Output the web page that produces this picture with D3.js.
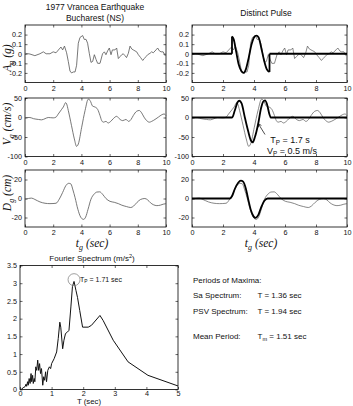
<!DOCTYPE html>
<html>
<head>
<meta charset="utf-8">
<script src="https://cdn.jsdelivr.net/npm/d3@7"></script>
<style>
  body { margin: 0; background: #fff; }
  text { font-family: Arial, "Liberation Sans", sans-serif; }
</style>
</head>
<body>
<svg id="chart" width="353" height="406"></svg>
<script>
// ---- data ----
// ground motion record (time s, value)
const accRecord = [[0,0.005],[0.35,-0.003],[0.7,-0.02],[1.06,0],[1.3,0.02],[1.5,0],[1.77,0],[2.0,0.02],[2.2,0.01],[2.43,0.05],[2.55,0.07],[2.67,0.04],[2.8,0.08],[2.95,0.01],[3.07,-0.08],[3.19,-0.18],[3.3,-0.2],[3.43,-0.19],[3.55,-0.19],[3.66,-0.12],[3.78,0.11],[3.9,0.17],[4.09,0.19],[4.2,0.15],[4.33,0.15],[4.44,0.11],[4.56,0.005],[4.68,-0.09],[4.8,-0.08],[4.92,-0.01],[5.04,-0.06],[5.15,-0.1],[5.32,-0.1],[5.5,0],[5.63,0.02],[5.74,-0.01],[5.86,0.03],[5.98,0.06],[6.1,-0.01],[6.2,0.04],[6.38,0.04],[6.5,0.06],[6.62,-0.05],[6.74,-0.03],[6.86,-0.01],[6.97,0],[7.09,-0.02],[7.2,-0.04],[7.33,0.005],[7.45,0.08],[7.57,0.05],[7.68,0.04],[7.8,0.03],[7.92,0.02],[8.04,-0.01],[8.2,-0.04],[8.35,-0.07],[8.46,-0.05],[8.58,-0.03],[8.7,-0.01],[8.87,0.005],[8.98,0.02],[9.1,0.01],[9.29,0.04],[9.41,0.06],[9.53,0.03],[9.65,0.02],[9.8,0.02],[9.93,-0.02],[10,-0.01]];
const velRecord = [[0,0],[0.35,0],[0.6,-3],[0.95,-5],[1.18,-6],[1.42,-3],[1.65,0],[2.0,-1],[2.2,1],[2.36,9],[2.6,21],[2.72,27],[2.88,38],[2.95,35],[3.07,18],[3.3,-21],[3.5,-55],[3.66,-74],[3.78,-68],[4.02,-25],[4.26,18],[4.49,47],[4.61,44],[4.8,29],[4.96,27],[5.15,21],[5.32,5],[5.44,-8],[5.56,-12],[5.74,-10],[5.9,-14],[6.08,-10],[6.26,-3],[6.5,3],[6.74,-5],[6.93,-8],[7.16,-5],[7.35,-10],[7.52,-5],[7.68,5],[7.92,16],[8.1,18],[8.27,12],[8.44,1],[8.63,-8],[8.82,-12],[8.98,-10],[9.22,-5],[9.46,1],[9.7,7],[9.86,9],[10,5]];
const dispRecord = [[0,-0.7],[0.24,0],[0.47,0.4],[0.7,-1],[1.06,-3.6],[1.42,-5],[1.77,-5.4],[2.2,-5],[2.43,-0.7],[2.67,6.4],[2.9,13.6],[3.1,16],[3.25,15.4],[3.4,9],[3.55,1],[3.75,-11.4],[3.95,-19.6],[4.15,-22],[4.3,-19.6],[4.47,-11.4],[4.68,-0.7],[4.9,4.6],[5.1,6.8],[5.3,7],[5.5,4.5],[5.74,0],[6.03,-3],[6.33,-4],[6.62,-5.4],[6.86,-7],[7.2,-8.5],[7.5,-9.5],[7.7,-8],[7.95,-4],[8.2,-1],[8.5,0],[8.7,-1.5],[8.9,-4.5],[9.1,-6.5],[9.35,-7.5],[9.6,-7],[9.8,-6],[10,-5.4]];

// equivalent pulse (repeated times mark a jump)
const accPulse = [[0,0],[2.58,0],[2.58,0.18],[2.69,0.15],[2.84,0.03],[3.01,-0.11],[3.18,-0.18],[3.33,-0.2],[3.48,-0.16],[3.66,-0.04],[3.83,0.09],[4.0,0.17],[4.15,0.19],[4.3,0.17],[4.47,0.06],[4.65,-0.07],[4.82,-0.16],[5.0,-0.19],[5.0,0],[10,0]];
const velPulse = [[0,0],[2.59,0],[2.76,18],[2.94,39],[3.05,43],[3.2,36],[3.41,0],[3.63,-36],[3.8,-59],[3.91,-64],[4.06,-50],[4.28,-14],[4.45,23],[4.6,41],[4.71,44],[4.84,34],[4.99,9],[5.08,0],[10,0]];
const dispPulse = [[0,0],[2.44,0],[2.59,2.6],[2.76,10],[2.98,16.6],[3.15,18.8],[3.3,17.7],[3.48,10],[3.63,-1],[3.8,-12.4],[3.97,-18.8],[4.1,-20.4],[4.28,-17.3],[4.45,-9.8],[4.67,-2.3],[4.88,0],[10,0]];

// Fourier amplitude spectrum (period s, m/s^2)
const fourier = [[0,0],[0.05,0.01],[0.1,0.05],[0.16,0.08],[0.19,0.15],[0.21,0.09],[0.24,0.22],[0.26,0.12],[0.29,0.31],[0.32,0.17],[0.35,0.45],[0.37,0.22],[0.4,0.4],[0.42,0.17],[0.45,0.31],[0.47,0.22],[0.5,0.64],[0.53,0.54],[0.56,0.83],[0.59,0.54],[0.62,0.73],[0.65,0.45],[0.68,0.59],[0.72,0.12],[0.75,0.36],[0.78,0.26],[0.81,0.5],[0.84,0.22],[0.88,0.54],[0.93,0.64],[0.97,0.59],[1.0,0.73],[1.08,0.87],[1.16,1.06],[1.21,1.44],[1.26,1.9],[1.29,1.76],[1.35,1.15],[1.39,1.39],[1.44,1.58],[1.5,1.62],[1.55,1.67],[1.61,2.33],[1.66,2.91],[1.71,3.05],[1.77,2.8],[1.82,2.6],[1.89,2.23],[1.98,1.76],[2.16,1.76],[2.26,1.81],[2.53,2.09],[2.63,1.95],[2.95,1.39],[3.42,0.78],[4.05,0.4],[5.0,0.1]];

// ticks
const timeTicks = [0, 2, 4, 6, 8, 10];
const accTicks = [-0.2, -0.1, 0, 0.1, 0.2];
const velTicks = [-100, -50, 0, 50];
const dispTicks = [-20, 0, 20];
const periodTicks = [0, 1, 2, 3, 4, 5];
const ampTicks = [0, 0.5, 1, 1.5, 2, 2.5, 3, 3.5];

const peakPeriod = [1.71, 3.1];

const svg = d3.select("#chart");

// MATLAB style box with inward ticks on all four sides
function panel(xRange, yRange, xDom, yDom, xTicks, yTicks, pad) {
    const x = d3.scaleLinear().domain(xDom).range(xRange);
    const y = d3.scaleLinear().domain(yDom).range(yRange);
    const g = svg.append("g");
    const fmt = d => String(d);

    g.append("g").attr("transform", "translate(0," + yRange[0] + ")")
        .call(d3.axisBottom(x).tickValues(xTicks).tickSize(-2.5).tickSizeOuter(0).tickPadding(pad || 3).tickFormat(fmt));
    g.append("g").attr("transform", "translate(0," + yRange[1] + ")")
        .call(d3.axisTop(x).tickValues(xTicks).tickSize(-2.5).tickSizeOuter(0).tickFormat(""));
    g.append("g").attr("transform", "translate(" + xRange[0] + ",0)")
        .call(d3.axisLeft(y).tickValues(yTicks).tickSize(-2.5).tickSizeOuter(0).tickPadding(3).tickFormat(fmt));
    g.append("g").attr("transform", "translate(" + xRange[1] + ",0)")
        .call(d3.axisRight(y).tickValues(yTicks).tickSize(-2.5).tickSizeOuter(0).tickFormat(""));

    g.selectAll(".domain").remove();
    g.selectAll(".tick line").attr("stroke", "#000").attr("stroke-width", 0.6);
    g.selectAll(".tick text").attr("font-size", 7.2).attr("fill", "#111")
        .attr("font-family", "Arial, 'Liberation Sans', sans-serif");

    g.append("rect")
        .attr("x", xRange[0]).attr("y", yRange[1])
        .attr("width", xRange[1] - xRange[0]).attr("height", yRange[0] - yRange[1])
        .attr("fill", "none").attr("stroke", "#000").attr("stroke-width", 0.8);
    return {x: x, y: y, g: g};
}

function drawLine(p, data, color, width, curve) {
    const line = d3.line()
        .x(d => p.x(d[0]))
        .y(d => p.y(d[1]))
        .curve(curve || d3.curveLinear);
    p.g.append("path")
        .datum(data)
        .attr("d", line)
        .attr("fill", "none")
        .attr("stroke", color)
        .attr("stroke-width", width)
        .attr("stroke-linejoin", "round");
}

// pulse: split at jumps (equal times), smooth pieces between them
function drawPulse(p, data) {
    let pieces = [], cur = [data[0]];
    for (let i = 1; i < data.length; i++) {
        if (data[i][0] === data[i - 1][0]) {
            pieces.push(cur);
            drawLine(p, [data[i - 1], data[i]], "#000", 1.8);
            cur = [data[i]];
        } else {
            cur.push(data[i]);
        }
    }
    pieces.push(cur);
    pieces.forEach(seg => drawLine(p, seg, "#000", 1.8, d3.curveMonotoneX));
}

// italic serif axis label with subscript g
function mathLabel(x, y, main, sub, rest, rotate) {
    const t = svg.append("text")
        .attr("transform", "translate(" + x + "," + y + ")" + (rotate ? " rotate(-90)" : ""))
        .attr("text-anchor", "middle")
        .attr("font-style", "italic")
        .attr("font-size", 11.5)
        .attr("fill", "#111");
    t.append("tspan").text(main).attr("font-family", "'Liberation Serif', 'Times New Roman', serif");
    t.append("tspan").text(sub).attr("font-size", 8).attr("dy", 3).attr("font-family", "'Liberation Serif', serif");
    t.append("tspan").text(rest).attr("dy", -3).attr("font-family", "'Liberation Serif', serif");
}

// text with a subscript, e.g. T_P
function subText(x, y, size, main, sub, rest, anchor) {
    const t = svg.append("text")
        .attr("x", x).attr("y", y)
        .attr("font-size", size)
        .attr("text-anchor", anchor || "start")
        .attr("fill", "#111");
    t.append("tspan").text(main);
    t.append("tspan").text(sub).attr("font-size", size * 0.7).attr("dy", size * 0.25);
    t.append("tspan").text(rest).attr("dy", -size * 0.25);
    return t;
}

const smooth = d3.curveMonotoneX;
const recColor = "#555";

// rows and columns
const leftX = [25, 166], rightX = [192, 347];
const row1 = [82.5, 25], row2 = [156.5, 98], row3 = [227, 170];

// ---- left column: record ----
const pA = panel(leftX, row1, [0, 10], [-0.3, 0.3], timeTicks, accTicks);
drawLine(pA, accRecord, recColor, 0.8);
const pV = panel(leftX, row2, [0, 10], [-100, 50], timeTicks, velTicks);
drawLine(pV, velRecord, recColor, 0.8, smooth);
const pD = panel(leftX, row3, [0, 10], [-30, 30], timeTicks, dispTicks);
drawLine(pD, dispRecord, recColor, 0.8, smooth);

// ---- right column: record + pulse ----
const qA = panel(rightX, row1, [0, 10], [-0.3, 0.3], timeTicks, accTicks);
drawLine(qA, accRecord, recColor, 0.7);
drawPulse(qA, accPulse);
const qV = panel(rightX, row2, [0, 10], [-100, 50], timeTicks, velTicks);
drawLine(qV, velRecord, recColor, 0.7, smooth);
drawPulse(qV, velPulse);
const qD = panel(rightX, row3, [0, 10], [-30, 30], timeTicks, dispTicks);
drawLine(qD, dispRecord, recColor, 0.7, smooth);
drawPulse(qD, dispPulse);

// titles
svg.append("text").attr("x", 95).attr("y", 9.5).attr("text-anchor", "middle")
    .attr("font-size", 8.5).attr("fill", "#111").text("1977 Vrancea Earthquake");
svg.append("text").attr("x", 95).attr("y", 21).attr("text-anchor", "middle")
    .attr("font-size", 8.5).attr("fill", "#111").text("Bucharest (NS)");
svg.append("text").attr("x", 266).attr("y", 15.5).attr("text-anchor", "middle")
    .attr("font-size", 8.5).attr("fill", "#111").text("Distinct Pulse");

// axis labels
mathLabel(10.5, 58, "A", "g", " (g)", true);
mathLabel(10.5, 124, "V", "g", " (cm/s)", true);
mathLabel(10.5, 193, "D", "g", " (cm)", true);
mathLabel(92, 247, "t", "g", " (sec)", false);
mathLabel(261, 247, "t", "g", " (sec)", false);

// pulse annotation
const arrowTip = [qV.x(4.28), qV.y(-16)];
const arrowTail = [265, 134.5];
svg.append("line")
    .attr("x1", arrowTail[0]).attr("y1", arrowTail[1])
    .attr("x2", arrowTip[0]).attr("y2", arrowTip[1])
    .attr("stroke", "#000").attr("stroke-width", 0.7);
const ang = Math.atan2(arrowTip[1] - arrowTail[1], arrowTip[0] - arrowTail[0]);
const ah = 3.5;
svg.append("path")
    .attr("d", "M" + (arrowTip[0] - ah * Math.cos(ang - 0.5)) + "," + (arrowTip[1] - ah * Math.sin(ang - 0.5)) +
        "L" + arrowTip[0] + "," + arrowTip[1] +
        "L" + (arrowTip[0] - ah * Math.cos(ang + 0.5)) + "," + (arrowTip[1] - ah * Math.sin(ang + 0.5)))
    .attr("fill", "none").attr("stroke", "#000").attr("stroke-width", 0.7);
subText(290, 142.5, 9, "T", "P", " = 1.7 s", "middle");
subText(292, 154, 9, "V", "P", " = 0.5 m/s", "middle");

// ---- Fourier spectrum ----
const pF = panel([20, 178], [389.5, 265.5], [0, 5], [0, 3.5], periodTicks, ampTicks, 1);
drawLine(pF, fourier, "#111", 1);
pF.g.append("circle")
    .attr("cx", pF.x(peakPeriod[0])).attr("cy", pF.y(peakPeriod[1]))
    .attr("r", 6).attr("fill", "none").attr("stroke", "#777").attr("stroke-width", 0.7);
subText(pF.x(peakPeriod[0]) + 6, 281.5, 7, "T", "P", " = 1.71 sec");

const ft = svg.append("text").attr("x", 92).attr("y", 261).attr("text-anchor", "middle")
    .attr("font-size", 8).attr("fill", "#111");
ft.append("tspan").text("Fourier Spectrum (m/s");
ft.append("tspan").text("2").attr("font-size", 5.5).attr("dy", -3);
ft.append("tspan").text(")").attr("dy", 3);

svg.append("text").attr("x", 89).attr("y", 404.3).attr("text-anchor", "middle")
    .attr("font-size", 7.8).attr("fill", "#111").text("T (sec)");

// text block of periods
const info = svg.append("g").attr("font-size", 8).attr("fill", "#111");
info.append("text").attr("x", 193).attr("y", 282.5).text("Periods of Maxima:");
info.append("text").attr("x", 193).attr("y", 297.5).text("Sa Spectrum:");
info.append("text").attr("x", 257.5).attr("y", 297.5).text("T = 1.36 sec");
info.append("text").attr("x", 193).attr("y", 313.5).text("PSV Spectrum:");
info.append("text").attr("x", 257.5).attr("y", 313.5).text("T = 1.94 sec");
info.append("text").attr("x", 193).attr("y", 339).text("Mean Period:");
subText(257.5, 339, 8, "T", "m", " = 1.51 sec");
</script>
</body>
</html>
